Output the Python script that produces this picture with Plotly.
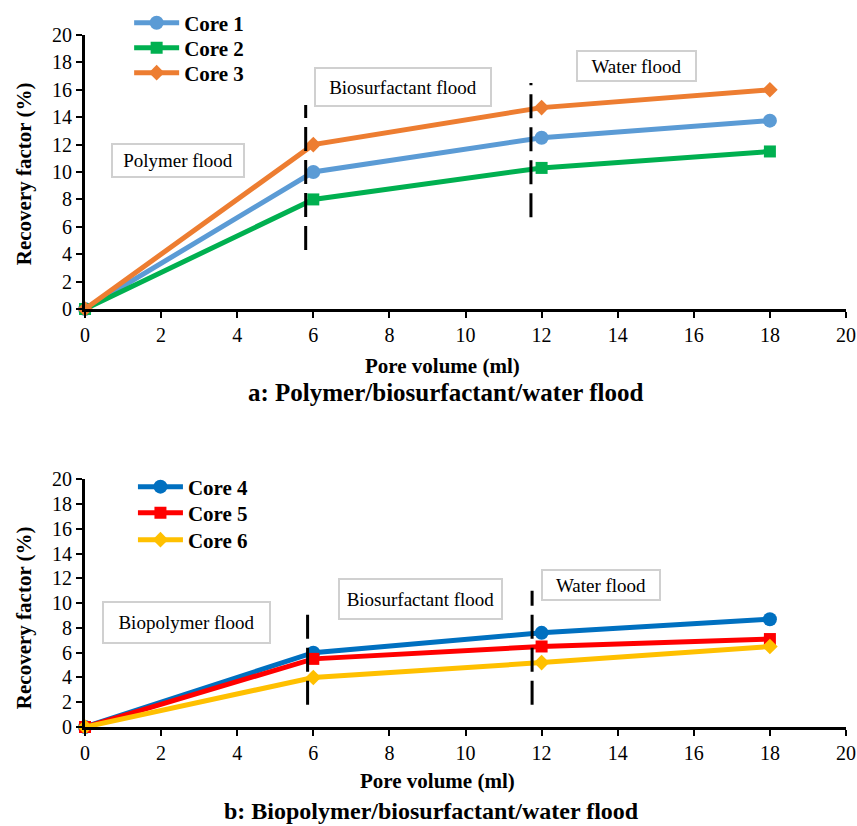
import plotly.graph_objects as go

# ---- data ----
pore_volume = [0, 6, 12, 18]
core1 = [0, 10.0, 12.5, 13.75]
core2 = [0, 8.0, 10.3, 11.5]
core3 = [0, 12.0, 14.7, 16.0]
core4 = [0, 6.0, 7.6, 8.7]
core5 = [0, 5.5, 6.5, 7.1]
core6 = [0, 4.0, 5.2, 6.5]
names_a = ["Core 1", "Core 2", "Core 3"]
names_b = ["Core 4", "Core 5", "Core 6"]
x_ticks = list(range(0, 21, 2))
y_ticks = list(range(0, 21, 2))

SERIF = "Liberation Serif"
colors_a = ["#5B9BD5", "#00B050", "#ED7D31"]
colors_b = ["#0070C0", "#FF0000", "#FFC000"]
symbols = ["circle", "square", "diamond"]
sizes = [14, 12, 12]

# one single-entry legend per series so that the entry spacing matches
legend_ids_a = ["legend", "legend2", "legend3"]
legend_ids_b = ["legend4", "legend5", "legend6"]
legend_y_a = [1.0173, 0.9812, 0.9451]
legend_y_b = [0.3468, 0.3092, 0.2702]

fig = go.Figure()

for vals, name, col, sym, sz, lg in zip([core1, core2, core3], names_a, colors_a, symbols, sizes, legend_ids_a):
    fig.add_trace(go.Scatter(x=pore_volume, y=vals, name=name, mode="lines+markers",
                             line=dict(color=col, width=5),
                             marker=dict(symbol=sym, size=sz, color=col),
                             cliponaxis=False, xaxis="x", yaxis="y", legend=lg))
for vals, name, col, sym, sz, lg in zip([core4, core5, core6], names_b, colors_b, symbols, sizes, legend_ids_b):
    fig.add_trace(go.Scatter(x=pore_volume, y=vals, name=name, mode="lines+markers",
                             line=dict(color=col, width=5),
                             marker=dict(symbol=sym, size=sz, color=col),
                             cliponaxis=False, xaxis="x2", yaxis="y2", legend=lg))

axis_common = dict(range=[0, 20], tickvals=x_ticks, showgrid=False, zeroline=False,
                   showline=True, linecolor="black", linewidth=3,
                   ticks="outside", ticklen=6, tickwidth=1.5, tickcolor="black",
                   automargin=False,
                   tickfont=dict(family=SERIF, size=20, color="black"))

legend_style = dict(xanchor="left", yanchor="middle", bgcolor="rgba(0,0,0,0)",
                    font=dict(family=SERIF, size=21, color="black", weight="bold"),
                    itemwidth=45, borderwidth=0)

layout_legends = {}
for lg, yv in zip(legend_ids_a, legend_y_a):
    layout_legends[lg] = dict(legend_style, x=0.058, y=yv)
for lg, yv in zip(legend_ids_b, legend_y_b):
    layout_legends[lg] = dict(legend_style, x=0.063, y=yv)

fig.update_layout(
    width=857, height=826,
    margin=dict(l=85, r=11, t=35, b=99, autoexpand=False),
    paper_bgcolor="white", plot_bgcolor="white",
    font=dict(family=SERIF, color="black"),
    xaxis=dict(axis_common, domain=[0, 1], anchor="y"),
    yaxis=dict(axis_common, tickvals=y_ticks, domain=[0.604, 1], anchor="x"),
    xaxis2=dict(axis_common, domain=[0, 1], anchor="y2"),
    yaxis2=dict(axis_common, tickvals=y_ticks, domain=[0, 0.358], anchor="x2"),
    showlegend=True,
    **layout_legends,
)

# dashed phase boundaries
dash_lines = [
    ("x", "y", 5.8, 4.3, 14.9),
    ("x", "y", 11.72, 6.7, 16.5),
    ("x2", "y2", 5.85, 1.8, 9.7),
    ("x2", "y2", 11.75, 1.8, 11.0),
]
for xr, yr, xv, y0, y1 in dash_lines:
    fig.add_shape(type="line", xref=xr, yref=yr, x0=xv, x1=xv, y0=y0, y1=y1,
                  line=dict(color="black", width=3, dash="24px,9px"))

# phase label boxes
boxes = [
    ("x", "y", 2.45, 10.84, "Polymer flood", 132, 33),
    ("x", "y", 8.36, 16.2, "Biosurfactant flood", 176, 38),
    ("x", "y", 14.49, 17.74, "Water flood", 119, 30),
    ("x2", "y2", 2.67, 8.43, "Biopolymer flood", 167, 41),
    ("x2", "y2", 8.82, 10.32, "Biosurfactant flood", 163, 40),
    ("x2", "y2", 13.56, 11.45, "Water flood", 118, 30),
]
for xr, yr, xv, yv, txt, w, h in boxes:
    fig.add_annotation(xref=xr, yref=yr, x=xv, y=yv, text=txt, showarrow=False,
                       xanchor="center", yanchor="middle",
                       width=w - 4, height=h - 4, borderpad=1, bordercolor="#D0D0D0",
                       borderwidth=2, bgcolor="white",
                       font=dict(family=SERIF, size=19, color="black"))

# axis titles and panel captions
bold = dict(family=SERIF, color="black", weight="bold")
titles = [
    (-0.080, 0.799, "Recovery factor (%)", -90, 21, "middle"),
    (-0.080, 0.1575, "Recovery factor (%)", -90, 21, "middle"),
    (0.470, 0.5217, "Pore volume (ml)", 0, 21, "middle"),
    (0.463, -0.078, "Pore volume (ml)", 0, 21, "middle"),
    (0.474, 0.4841, "a: Polymer/biosurfactant/water flood", 0, 25, "middle"),
    (0.455, -0.1416, "b: Biopolymer/biosurfactant/water flood", 0, 24, "bottom"),
]
for xv, yv, txt, ang, fs, ya in titles:
    fig.add_annotation(xref="paper", yref="paper", x=xv, y=yv, text=txt, textangle=ang,
                       xanchor="center", yanchor=ya, showarrow=False, borderpad=0,
                       font=dict(bold, size=fs))

fig.write_html("out.html", config={"displayModeBar": False},
               post_script="document.body.style.margin='0px';")
